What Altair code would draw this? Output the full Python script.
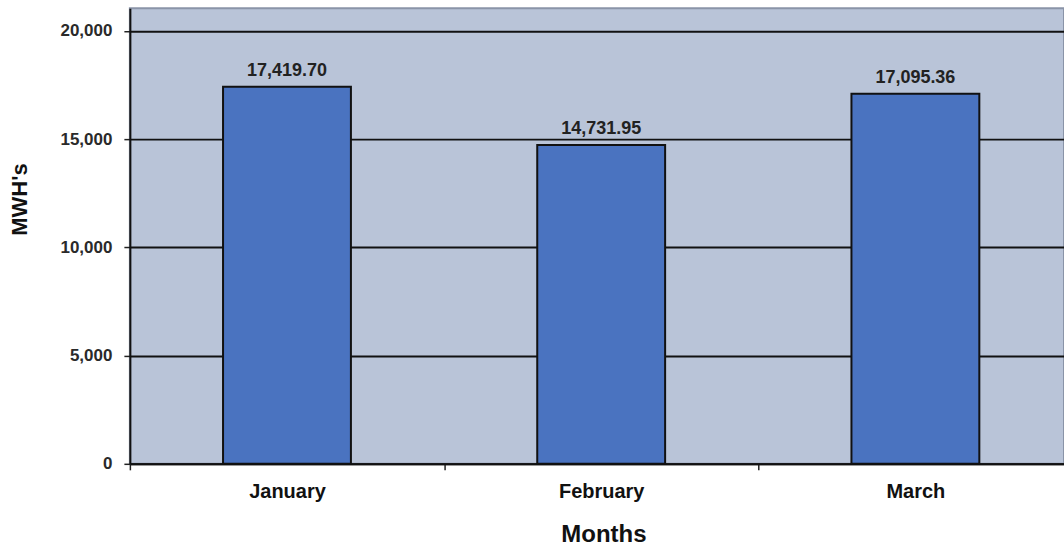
import altair as alt
import pandas as pd

months = ["January", "February", "March"]
mwh = [17419.70, 14731.95, 17095.36]

df = pd.DataFrame({"Month": months, "MWH": mwh})

FONT = "Liberation Sans"

x = alt.X(
    "Month:N",
    sort=months,
    scale=alt.Scale(range=[0, 943.5], paddingInner=0, paddingOuter=0),
    axis=alt.Axis(
        title="Months",
        titleFont=FONT,
        titleFontSize=24,
        titleFontWeight="bold",
        titleColor="#111111",
        titleX=474,
        titleY=78,
        titleBaseline="alphabetic",
        titleAlign="center",
        labelFont=FONT,
        labelFontSize=20,
        labelFontWeight="bold",
        labelColor="#111111",
        labelAngle=0,
        labelBaseline="alphabetic",
        labelPadding=28,
        tickBand="extent",
        tickColor="#222222",
        tickSize=6,
        tickWidth=1.5,
        domainColor="#111111",
        domainWidth=2,
        grid=False,
    ),
)

y = alt.Y(
    "MWH:Q",
    scale=alt.Scale(domain=[0, 21050], nice=False),
    axis=alt.Axis(
        title="MWH's",
        titleFont=FONT,
        titleFontSize=22,
        titleFontWeight="bold",
        titleColor="#111111",
        titleAngle=270,
        titleX=-110,
        titleY=191,
        titleAlign="center",
        titleBaseline="middle",
        values=[0, 5000, 10000, 15000, 20000],
        format=",.0f",
        labelFont=FONT,
        labelFontSize=17,
        labelFontWeight="bold",
        labelColor="#2a2a2a",
        labelPadding=12,
        tickColor="#222222",
        tickSize=6,
        tickWidth=1.5,
        domainColor="#111111",
        domainWidth=2,
        grid=True,
        gridColor="#111111",
        gridWidth=2,
    ),
)

bars = alt.Chart(df).mark_bar(
    size=128, color="#4a73c0", stroke="#111111", strokeWidth=2
).encode(x=x, y=y)

labels = alt.Chart(df).mark_text(
    baseline="alphabetic", dy=-11, font=FONT, fontSize=18, fontWeight="bold", color="#222222"
).encode(
    x=alt.X("Month:N", sort=months),
    y=alt.Y("MWH:Q"),
    text=alt.Text("MWH:Q", format=",.2f"),
)

chart = (
    alt.layer(bars, labels)
    .properties(
        width=935,
        height=456,
        autosize=alt.AutoSizeParams(type="none"),
        padding={"left": 130, "top": 8, "right": 0, "bottom": 82},
        background="#ffffff",
    )
    .configure_view(fill="#b9c4d8", stroke="#8a94a8", strokeWidth=2)
)

chart.save("out.html", embed_options={"renderer": "svg", "actions": False})
